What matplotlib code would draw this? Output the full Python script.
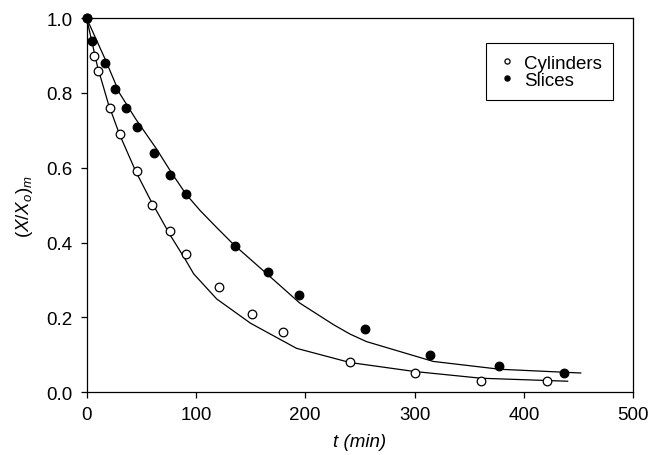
import numpy as np
import matplotlib
matplotlib.use('Agg')
import matplotlib.pyplot as plt

plt.rcParams['font.family'] = ['Liberation Sans', 'DejaVu Sans']
plt.rcParams['mathtext.fontset'] = 'custom'
plt.rcParams['mathtext.rm'] = 'Liberation Sans'
plt.rcParams['mathtext.it'] = 'Liberation Sans:italic'

# measured points
cyl_t = [0, 7, 10, 21, 31, 46, 60, 76, 91, 121, 151, 180, 241, 300, 361, 421]
cyl_x = [1.0, 0.90, 0.86, 0.76, 0.69, 0.59, 0.50, 0.43, 0.37, 0.28, 0.21, 0.16, 0.08, 0.05, 0.03, 0.03]
sli_t = [0, 5, 17, 26, 36, 46, 62, 76, 91, 136, 166, 194, 255, 314, 377, 437]
sli_x = [1.0, 0.94, 0.88, 0.81, 0.76, 0.71, 0.64, 0.58, 0.53, 0.39, 0.32, 0.26, 0.17, 0.10, 0.07, 0.05]

# model curves
cyl_fit_t = [0, 10, 20, 30, 45, 58, 76, 90, 98, 119, 150, 192, 241, 300, 361, 440]
cyl_fit_x = [1.0, 0.87, 0.77, 0.69, 0.59, 0.516, 0.422, 0.356, 0.316, 0.249, 0.184, 0.117, 0.079, 0.055, 0.037, 0.029]
sli_fit_t = [0, 17, 30, 45, 64, 78, 91, 104, 119, 134, 165, 195, 226, 241, 256, 317, 378, 452]
sli_fit_x = [1.0, 0.89, 0.80, 0.73, 0.65, 0.585, 0.529, 0.485, 0.44, 0.396, 0.316, 0.238, 0.18, 0.155, 0.135, 0.082, 0.061, 0.051]

fig = plt.figure(figsize=(6.61, 4.56), dpi=100)
ax = fig.add_axes([0.131, 0.138, 0.827, 0.820])

ax.plot(cyl_fit_t, cyl_fit_x, color='black', lw=0.9)
ax.plot(sli_fit_t, sli_fit_x, color='black', lw=0.9)
ax.plot(cyl_t, cyl_x, 'o', ms=6.2, mfc='white', mec='black', mew=0.9, label='Cylinders', clip_on=False, zorder=3)
ax.plot(sli_t, sli_x, 'o', ms=6.2, mfc='black', mec='black', mew=0.9, label='Slices', clip_on=False, zorder=4)

ax.set_xlim(0, 500)
ax.set_ylim(0, 1.0)
ax.set_xticks([0, 100, 200, 300, 400, 500])
ax.set_yticks([0.0, 0.2, 0.4, 0.6, 0.8, 1.0])
ax.set_yticklabels(['0.0', '0.2', '0.4', '0.6', '0.8', '1.0'])
ax.tick_params(direction='out', length=4, width=0.9, pad=6, labelsize=13.5, top=False, right=False)
for s in ax.spines.values():
    s.set_linewidth(0.9)

ax.set_xlabel('t (min)', fontsize=13.5, style='italic', labelpad=7)
ax.set_ylabel(r'$(X/X_o)_m$', fontsize=13.5, labelpad=8)

leg = ax.legend(loc='upper right', bbox_to_anchor=(0.963, 0.933), borderaxespad=0, fontsize=13.5,
                markerscale=0.6, handlelength=1.0, handletextpad=0.4, borderpad=0.6, labelspacing=0.0,
                fancybox=False, edgecolor='black', framealpha=1)
leg.get_frame().set_linewidth(0.8)

fig.savefig('out.png', dpi=100)
